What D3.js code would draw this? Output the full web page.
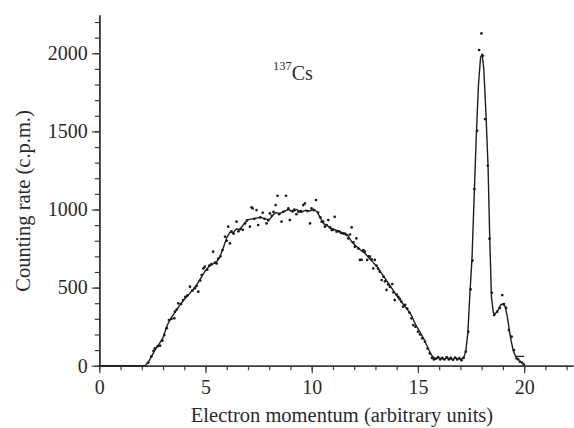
<!DOCTYPE html>
<html>
<head>
<meta charset="utf-8">
<script src="https://cdn.jsdelivr.net/npm/d3@7"></script>
<style>
  html, body { margin: 0; padding: 0; background: #fff; }
  svg { display: block; }
  text { font-family: "Liberation Serif", "Times New Roman", serif; fill: #2a2a2a; }
</style>
</head>
<body>
<svg id="chart" width="574" height="428"></svg>
<script>
// ---- Data ----
const xMajorTicks = [0, 5, 10, 15, 20];
const yMajorTicks = [0, 500, 1000, 1500, 2000];
const xLabel = "Electron momentum (arbitrary units)";
const yLabel = "Counting rate (c.p.m.)";
const isotopeMass = "137";
const isotopeSymbol = "Cs";

// smoothed curve (momentum, counting rate)
const curveX = [0, 2.15, 2.3, 2.6, 2.8, 3.0, 3.2, 3.4, 3.6, 3.8, 4.0, 4.2, 4.4, 4.6, 4.8, 5.0, 5.2, 5.4, 5.55, 5.7, 5.85, 6.0, 6.15, 6.3, 6.45, 6.6, 6.8, 7.0, 7.2, 7.4, 7.6, 7.8, 8.0, 8.15, 8.3, 8.5, 8.7, 8.9, 9.1, 9.3, 9.5, 9.7, 9.9, 10.1, 10.25, 10.4, 10.55, 10.7, 10.9, 11.1, 11.3, 11.5, 11.7, 11.9, 12.1, 12.3, 12.5, 12.7, 12.9, 13.1, 13.3, 13.5, 13.7, 13.9, 14.1, 14.3, 14.5, 14.7, 14.9, 15.1, 15.3, 15.5, 15.65, 15.8, 16.0, 16.2, 16.4, 16.6, 16.8, 17.0, 17.15, 17.25, 17.35, 17.45, 17.55, 17.65, 17.75, 17.85, 17.95, 18.02, 18.1, 18.2, 18.3, 18.38, 18.46, 18.55, 18.62, 18.75, 18.9, 19.0, 19.1, 19.2, 19.3, 19.4, 19.5, 19.6, 20.0];
const curveY = [0, 0, 20, 95, 135, 180, 260, 310, 350, 390, 425, 455, 485, 520, 565, 610, 640, 655, 670, 705, 760, 820, 855, 850, 875, 870, 905, 935, 940, 945, 950, 940, 935, 960, 980, 975, 988, 1000, 985, 1000, 982, 995, 990, 1002, 985, 950, 910, 900, 880, 870, 860, 845, 835, 790, 765, 740, 720, 690, 660, 630, 590, 550, 510, 470, 430, 395, 360, 320, 260, 215, 165, 105, 65, 45, 50, 42, 50, 40, 48, 40, 50, 90, 210, 470, 700, 1100, 1480, 1800, 1975, 1995, 1900, 1620, 1280, 820, 440, 340, 330, 350, 390, 395, 380, 320, 230, 150, 90, 60, 60];

// measured points (momentum, counting rate)
const pointX = [2.3, 2.45, 2.55, 2.62, 2.75, 2.86, 2.97, 3.06, 3.18, 3.28, 3.4, 3.53, 3.56, 3.65, 3.72, 3.85, 3.95, 4.05, 4.15, 4.27, 4.38, 4.5, 4.58, 4.66, 4.75, 4.82, 4.9, 4.97, 5.08, 5.18, 5.28, 5.36, 5.45, 5.52, 5.6, 5.7, 5.8, 5.92, 6.0, 6.07, 6.15, 6.22, 6.32, 6.46, 6.55, 6.65, 6.75, 6.86, 6.95, 7.09, 7.17, 7.22, 7.3, 7.4, 7.48, 7.58, 7.69, 7.78, 7.87, 7.95, 8.03, 8.12, 8.2, 8.3, 8.39, 8.47, 8.58, 8.67, 8.79, 8.9, 8.97, 9.08, 9.18, 9.28, 9.38, 9.5, 9.6, 9.68, 9.8, 9.92, 9.99, 10.1, 10.2, 10.3, 10.4, 10.47, 10.54, 10.62, 10.7, 10.78, 10.86, 10.94, 11.02, 11.08, 11.17, 11.28, 11.38, 11.48, 11.56, 11.64, 11.72, 11.8, 11.88, 11.96, 12.03, 12.1, 12.2, 12.27, 12.35, 12.43, 12.5, 12.61, 12.7, 12.74, 12.82, 12.9, 12.97, 13.05, 13.12, 13.2, 13.29, 13.38, 13.45, 13.52, 13.6, 13.68, 13.79, 13.85, 13.91, 14.0, 14.08, 14.15, 14.22, 14.3, 14.4, 14.5, 14.6, 14.7, 14.78, 14.88, 15.0, 15.1, 15.2, 15.33, 15.45, 15.56, 15.66, 15.75, 15.85, 15.95, 16.05, 16.15, 16.25, 16.35, 16.45, 16.55, 16.65, 16.75, 16.85, 16.95, 17.05, 17.15, 17.25, 17.37, 17.48, 17.57, 17.66, 17.79, 17.88, 17.99, 18.06, 18.16, 18.29, 18.37, 18.48, 18.59, 18.73, 18.85, 18.97, 19.05, 19.15, 19.28, 19.41, 19.52, 19.64, 19.72, 19.8, 19.9, 19.98];
const pointY = [20, 60, 95, 111, 125, 128, 160, 196, 240, 292, 300, 303, 346, 360, 399, 395, 420, 440, 450, 506, 480, 495, 510, 474, 545, 580, 623, 634, 615, 640, 650, 730, 660, 655, 685, 700, 740, 826, 800, 890, 783, 860, 845, 922, 860, 875, 870, 911, 930, 890, 1014, 1007, 940, 996, 900, 950, 979, 940, 911, 930, 975, 960, 985, 1028, 1088, 970, 922, 985, 1088, 1007, 932, 990, 1000, 970, 985, 990, 1028, 1039, 990, 911, 1007, 995, 1060, 980, 950, 922, 922, 890, 900, 932, 885, 868, 870, 953, 858, 860, 850, 847, 845, 837, 815, 840, 885, 790, 762, 815, 750, 677, 677, 740, 730, 677, 700, 698, 680, 623, 677, 640, 620, 602, 548, 570, 540, 485, 520, 505, 523, 470, 420, 455, 440, 427, 410, 378, 390, 365, 340, 303, 260, 250, 218, 200, 175, 154, 110, 79, 50, 40, 45, 55, 40, 50, 40, 55, 40, 50, 38, 52, 40, 48, 35, 50, 90, 218, 489, 672, 1131, 1504, 2021, 2127, 1984, 1579, 1280, 813, 467, 325, 346, 370, 452, 395, 370, 228, 186, 100, 47, 40, 26, 20, 8];

// ---- Layout ----
const plotLeft = 99.3, plotRight = 573, plotTop = 15, plotBottom = 365.7;

const svg = d3.select("#chart");
const x = d3.scaleLinear().domain([0, 22.3]).range([plotLeft, plotRight]);
const y = d3.scaleLinear().domain([0, 2245]).range([plotBottom, plotTop]);

const axisColor = "#3a3a3a";

// minor ticks
const xMinor = d3.range(0, 23, 1);
const yMinor = d3.range(0, 2201, 100);

const gxMinor = svg.append("g").attr("transform", `translate(0,${plotBottom})`)
  .call(d3.axisBottom(x).tickValues(xMinor).tickSize(4.5).tickSizeOuter(0).tickFormat(""));
const gyMinor = svg.append("g").attr("transform", `translate(${plotLeft},0)`)
  .call(d3.axisLeft(y).tickValues(yMinor).tickSize(4.5).tickSizeOuter(0).tickFormat(""));

const gx = svg.append("g").attr("transform", `translate(0,${plotBottom})`)
  .call(d3.axisBottom(x).tickValues(xMajorTicks).tickSize(7.5).tickSizeOuter(0).tickPadding(7).tickFormat(d3.format("d")));
const gy = svg.append("g").attr("transform", `translate(${plotLeft},0)`)
  .call(d3.axisLeft(y).tickValues(yMajorTicks).tickSize(7.5).tickSizeOuter(0).tickPadding(4).tickFormat(d3.format("d")));

[gxMinor, gyMinor, gx, gy].forEach(g => {
  g.selectAll("path.domain").attr("stroke", axisColor).attr("stroke-width", 1.6);
  g.selectAll(".tick line").attr("stroke", axisColor).attr("stroke-width", 1.2);
});
[gx, gy].forEach(g => {
  g.selectAll(".tick text")
    .style("font-family", '"Liberation Serif", serif')
    .style("font-size", "20px")
    .attr("fill", "#2a2a2a");
});

// curve
const curveData = curveX.map((d, i) => ({ x: d, y: curveY[i] }));
svg.append("path")
  .datum(curveData)
  .attr("fill", "none")
  .attr("stroke", "#1e1e1e")
  .attr("stroke-width", 1.4)
  .attr("stroke-linejoin", "round")
  .attr("d", d3.line().x(d => x(d.x)).y(d => y(d.y)));

// points
const pointData = pointX.map((d, i) => ({ x: d, y: pointY[i] }));
svg.append("g").selectAll("circle")
  .data(pointData)
  .join("circle")
  .attr("cx", d => x(d.x))
  .attr("cy", d => y(d.y))
  .attr("r", 1.35)
  .attr("fill", "#1a1a1a");

// axis titles
svg.append("text")
  .attr("x", 342).attr("y", 422)
  .attr("text-anchor", "middle")
  .style("font-size", "20.5px")
  .text(xLabel);

svg.append("text")
  .attr("transform", "translate(30,201) rotate(-90)")
  .attr("text-anchor", "middle")
  .style("font-size", "20.5px")
  .text(yLabel);

// isotope annotation
const ann = svg.append("text").attr("x", 273).attr("y", 80).style("font-size", "20px");
ann.append("tspan").attr("y", 70).style("font-size", "12.5px").text(isotopeMass);
ann.append("tspan").attr("y", 80).text(isotopeSymbol);
</script>
</body>
</html>
